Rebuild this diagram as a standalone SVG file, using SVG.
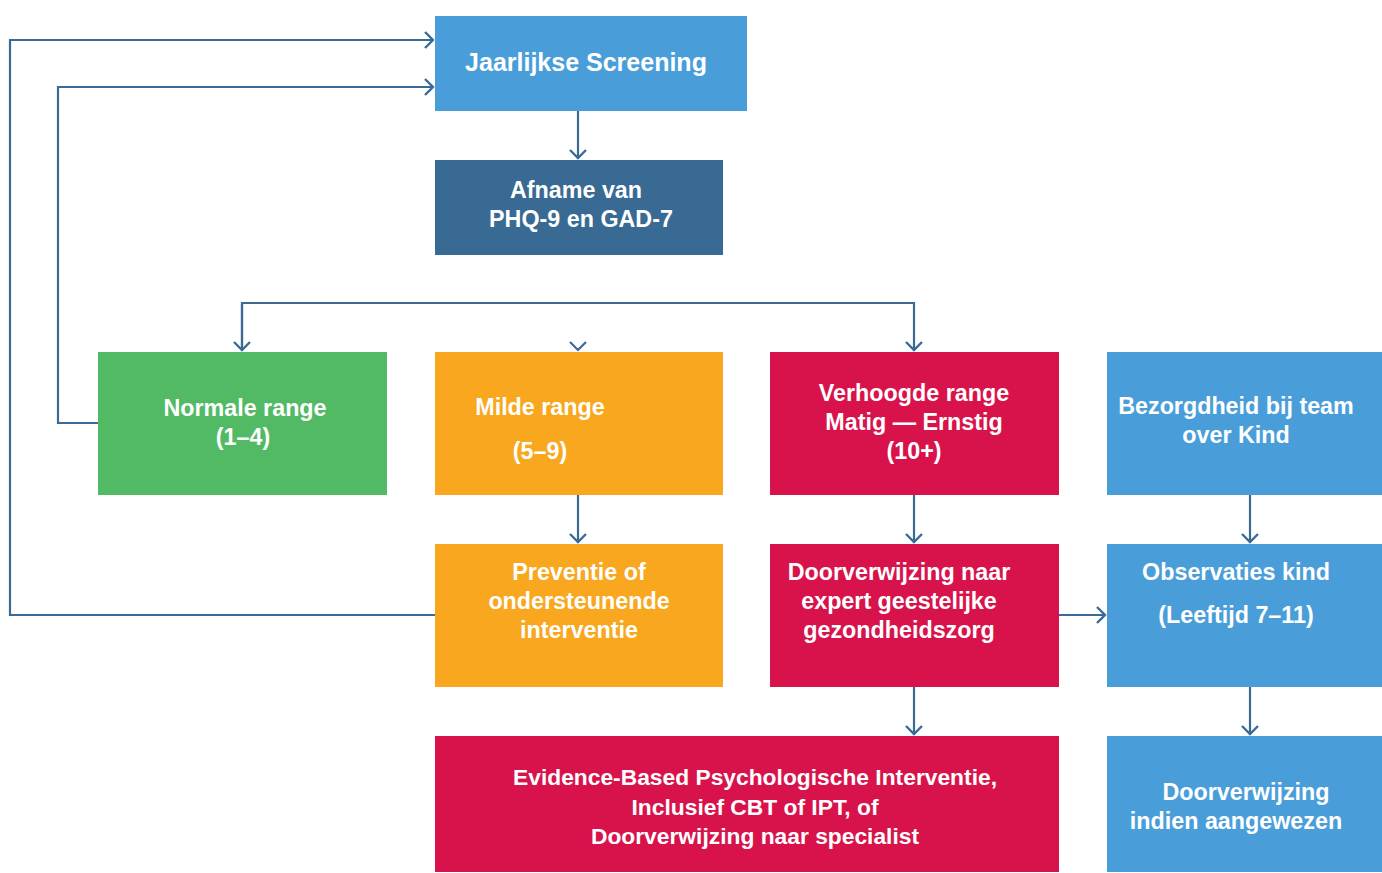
<svg xmlns="http://www.w3.org/2000/svg" width="1382" height="873" viewBox="0 0 1382 873">
<defs>
<marker id="arr" markerWidth="20" markerHeight="20" viewBox="-10 -10 20 20" refX="0" refY="0" orient="auto" markerUnits="userSpaceOnUse">
<path d="M-8,-8 L0,0 L-8,8" fill="none" stroke="#3B6A95" stroke-width="2.4"/>
</marker>
<style>
.lbl{font-family:"Liberation Sans",Arial,sans-serif;font-weight:bold;font-size:23.3px;fill:#fff;text-anchor:middle}
.big{font-size:25px}
.ev{font-size:22.8px}
.c{fill:none;stroke:#3B6A95;stroke-width:2.2}
.blue{fill:#499EDA}
.dblue{fill:#386A94}
.green{fill:#52BA65}
.orange{fill:#F8A71E}
.red{fill:#D8134B}
</style>
</defs>
<rect width="1382" height="873" fill="#fff"/>
<g id="connectors">
<path class="c" d="M435,615 H10 V40 H433" marker-end="url(#arr)"/>
<path class="c" d="M98,423 H58 V87 H433" marker-end="url(#arr)"/>
<path class="c" d="M578,111 V158" marker-end="url(#arr)"/>
<path class="c" d="M242,350 V303 H914 V350" marker-end="url(#arr)"/>
<path class="c" d="M242,304 V350" marker-end="url(#arr)"/>
<path class="c" d="M570,342 L578,350 L586,342" stroke-width="2.4"/>
<path class="c" d="M578,495 V542" marker-end="url(#arr)"/>
<path class="c" d="M914,495 V542" marker-end="url(#arr)"/>
<path class="c" d="M914,687 V734" marker-end="url(#arr)"/>
<path class="c" d="M1250,495 V542" marker-end="url(#arr)"/>
<path class="c" d="M1059,615 H1105" marker-end="url(#arr)"/>
<path class="c" d="M1250,687 V734" marker-end="url(#arr)"/>
</g>
<g id="jaarlijkse">
<rect class="blue" x="435" y="16" width="312" height="95"/>
<text class="lbl big" x="586" y="71">Jaarlijkse Screening</text>
</g>
<g id="afname">
<rect class="dblue" x="435" y="160" width="288" height="95"/>
<text class="lbl" x="576" y="198">Afname van</text>
<text class="lbl" x="581" y="227">PHQ-9 en GAD-7</text>
</g>
<g id="normale">
<rect class="green" x="98" y="352" width="289" height="143"/>
<text class="lbl" x="245" y="416">Normale range</text>
<text class="lbl" x="243" y="445">(1–4)</text>
</g>
<g id="milde">
<rect class="orange" x="435" y="352" width="288" height="143"/>
<text class="lbl" x="540" y="415">Milde range</text>
<text class="lbl" x="540" y="459">(5–9)</text>
</g>
<g id="verhoogde">
<rect class="red" x="770" y="352" width="289" height="143"/>
<text class="lbl" x="914" y="401">Verhoogde range</text>
<text class="lbl" x="914" y="430">Matig — Ernstig</text>
<text class="lbl" x="914" y="459">(10+)</text>
</g>
<g id="bezorgdheid">
<rect class="blue" x="1107" y="352" width="275" height="143"/>
<text class="lbl" x="1236" y="414">Bezorgdheid bij team</text>
<text class="lbl" x="1236" y="443">over Kind</text>
</g>
<g id="preventie">
<rect class="orange" x="435" y="544" width="288" height="143"/>
<text class="lbl" x="579" y="580">Preventie of</text>
<text class="lbl" x="579" y="609">ondersteunende</text>
<text class="lbl" x="579" y="638">interventie</text>
</g>
<g id="doorverwijzing-expert">
<rect class="red" x="770" y="544" width="289" height="143"/>
<text class="lbl" x="899" y="580">Doorverwijzing naar</text>
<text class="lbl" x="899" y="609">expert geestelijke</text>
<text class="lbl" x="899" y="638">gezondheidszorg</text>
</g>
<g id="observaties">
<rect class="blue" x="1107" y="544" width="275" height="143"/>
<text class="lbl" x="1236" y="580">Observaties kind</text>
<text class="lbl" x="1236" y="623">(Leeftijd 7–11)</text>
</g>
<g id="evidence">
<rect class="red" x="435" y="736" width="624" height="136"/>
<text class="lbl ev" x="755" y="785">Evidence-Based Psychologische Interventie,</text>
<text class="lbl ev" x="755" y="815">Inclusief CBT of IPT, of</text>
<text class="lbl ev" x="755" y="844">Doorverwijzing naar specialist</text>
</g>
<g id="doorverwijzing-indien">
<rect class="blue" x="1107" y="736" width="275" height="136"/>
<text class="lbl" x="1246" y="800">Doorverwijzing</text>
<text class="lbl" x="1236" y="829">indien aangewezen</text>
</g>
</svg>
